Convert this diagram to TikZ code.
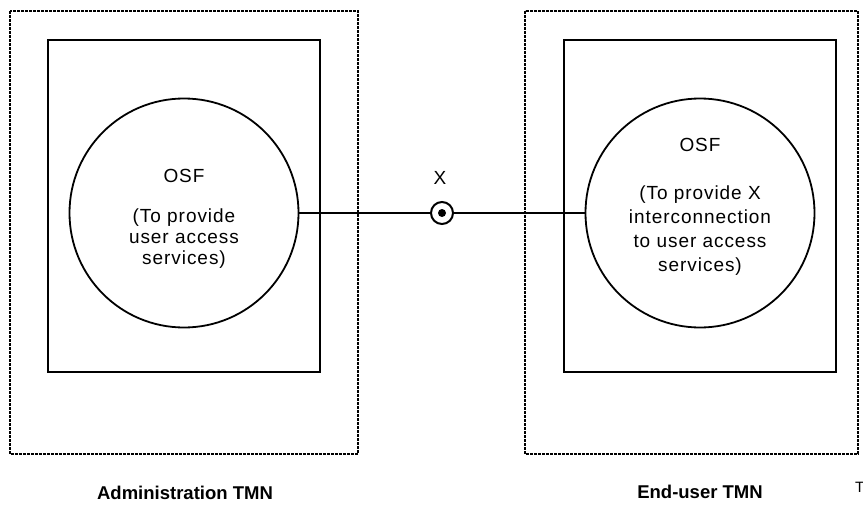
\documentclass[tikz,border=0pt]{standalone}
\usepackage{fontspec}
\setmainfont{Liberation Sans}
\newfontfamily\spacedfont[LetterSpace=5]{Liberation Sans}
\begin{document}
\begin{tikzpicture}[x=1pt,y=-1pt,
  dotbox/.style={draw, line width=2.7pt, dash pattern=on 2.7pt off 1.3pt},
  solidbox/.style={draw, line width=1.9pt},
  osf/.style={draw, circle, line width=1.8pt, minimum size=229pt, inner sep=0pt},
  txt/.style={font=\spacedfont\fontsize{19}{21}\selectfont, align=center, inner sep=0pt},
  lbl/.style={font=\fontsize{18.5}{21}\selectfont\bfseries, inner sep=0pt},
  link/.style={draw, line width=2.6pt}]
\useasboundingbox (0,0) rectangle (863,511);
% dotted TMN boxes
\draw[dotbox] (10,11) rectangle (358,454);
\draw[dotbox] (525,11) rectangle (858,454);
% solid boxes
\draw[solidbox] (48,40) rectangle (320,372);
\draw[solidbox] (564,40) rectangle (836,372);
% circles
\node[osf] (c1) at (184,213) {};
\node[osf] (c2) at (700,213) {};
% reference point X
\node[draw, circle, line width=2pt, minimum size=22pt, inner sep=0pt] (xp) at (442,213) {};
\fill (xp.center) circle (4pt);
\draw[link] (c1.east) -- (xp.west);
\draw[link] (xp.east) -- (c2.west);
\node[txt] (xl) at (440,178) {X};
% texts
\node[txt] (o1) at (184,176) {OSF};
\node[txt, font=\spacedfont\fontsize{19}{21}\selectfont] (t1) at (184,239) {(To provide\\user access\\services)};
\node[txt] (o2) at (700,145) {OSF};
\node[txt, font=\spacedfont\fontsize{19}{24}\selectfont] (t2) at (700,231) {(To provide X\\interconnection\\to user access\\services)};
% labels
\node[lbl] (l1) at (185,493) {Administration TMN};
\node[lbl] (l2) at (700,492) {End-user TMN};
\node[font=\fontsize{15}{16}\selectfont, inner sep=0pt, anchor=west] (tt) at (855,487) {T};
\end{tikzpicture}
\end{document}
